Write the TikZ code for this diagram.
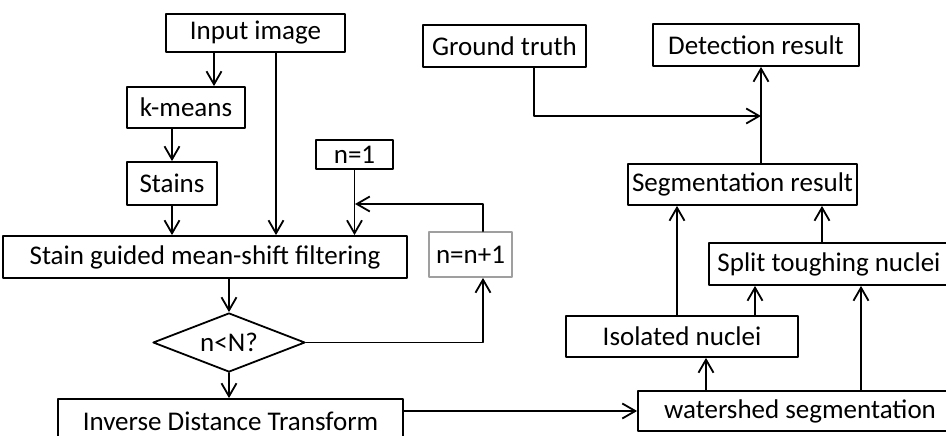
\documentclass[tikz,border=0pt]{standalone}
\usepackage{fontspec}
\setmainfont{Carlito}
\usetikzlibrary{arrows.meta, calc, shapes.geometric}

\begin{document}
\begin{tikzpicture}[x=1pt, y=-1pt, line cap=round, line join=round,
	>={Straight Barb[length=13pt, width=15pt]},
	box/.style={draw, line width=1.8pt, inner sep=0pt, font=\fontsize{27}{32}\selectfont},
	decision/.style={box, diamond, aspect=2.6},
	conn/.style={line width=1.8pt, ->}]
	% page frame
	\useasboundingbox (0,0) rectangle (946,436);
	\clip (0,0) rectangle (946,436);
	
	% left part: filtering loop
	\node[box, minimum width=179pt, minimum height=38pt] (inp) at (255.5,33) {Input image};
	\node[box, minimum width=118pt, minimum height=41pt] (km) at (186,107.5) {k-means};
	\node[box, minimum width=90pt, minimum height=43pt] (st) at (172,183.5) {Stains};
	\node[box, minimum width=77pt, minimum height=29pt] (n1) at (354.5,154.5) {n=1};
	\node[box, minimum width=404pt, minimum height=42pt] (ms) at (205,257) {Stain guided mean-shift filtering};
	\node[box, draw=gray!75, minimum width=83pt, minimum height=45pt] (inc) at (470.5,254.5) {n=n+1};
	\node[decision, minimum width=152pt, minimum height=59pt] (dec) at (229,342.5) {n<N?};
	\node[box, minimum width=345pt, minimum height=44pt] (idt) at (230.5,421) {Inverse Distance Transform};
	
	% right part: segmentation and detection
	\node[box, minimum width=163pt, minimum height=42pt] (gt) at (504.5,46) {Ground truth};
	\node[box, minimum width=206pt, minimum height=42pt] (det) at (756,45) {Detection result};
	\node[box, minimum width=229pt, minimum height=41pt] (seg) at (742.5,184.5) {Segmentation result};
	\node[box, minimum width=240pt, minimum height=42pt] (spl) at (829,264) {Split toughing nuclei};
	\node[box, minimum width=232pt, minimum height=41pt] (iso) at (682,336.5) {Isolated nuclei};
	\node[box, minimum width=324pt, minimum height=40pt] (ws) at (800,411) {watershed segmentation};
	
	% columns of the vertical connectors
	\coordinate (c1) at (214,0);
	\coordinate (c2) at (276,0);
	\coordinate (c3) at (483,0);
	\coordinate (c4) at (534,0);
	\coordinate (c5) at (761,0);
	\coordinate (c6) at (677,0);
	\coordinate (c7) at (706,0);
	\coordinate (c8) at (755,0);
	\coordinate (c9) at (822,0);
	\coordinate (c10) at (861,0);
	% join points
	\coordinate (back) at (355,204);
	\coordinate (meet) at (761,116);
	
	\draw[conn] (inp.south -| c1) -- (km.north -| c1);
	\draw[conn] (km.south -| st) -- (st.north);
	\draw[conn] (st.south) -- (st.south |- ms.north);
	\draw[conn] (inp.south -| c2) -- (ms.north -| c2);
	\draw[conn] (n1.south) -- (n1.south |- ms.north);
	\draw[conn] (inc.north -| c3) |- (back);
	\draw[conn] (ms.south -| dec) -- (dec.north);
	\draw[conn] (dec.east) -| (inc.south -| c3);
	\draw[conn] (dec.south) -- (dec.south |- idt.north);
	\draw[conn] (idt.east |- ws.west) -- (ws.west);
	
	\draw[conn] (ws.north -| c7) -- (iso.south -| c7);
	\draw[conn] (ws.north -| c10) -- (spl.south -| c10);
	\draw[conn] (iso.north -| c8) -- (spl.south -| c8);
	\draw[conn] (iso.north -| c6) -- (seg.south -| c6);
	\draw[conn] (spl.north -| c9) -- (seg.south -| c9);
	\draw[conn] (seg.north -| c5) -- (det.south -| c5);
	\draw[conn] (gt.south -| c4) |- (meet);
\end{tikzpicture}
\end{document}
